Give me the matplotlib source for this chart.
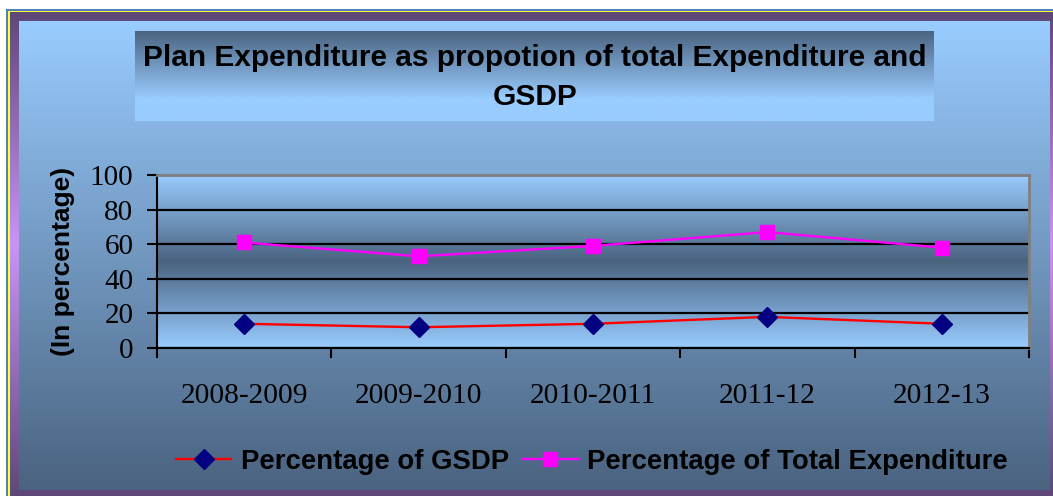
import numpy as np
import matplotlib
matplotlib.use("Agg")
import matplotlib.pyplot as plt
from matplotlib.patches import Rectangle
from matplotlib.colors import to_rgb

# ---- data ----
years = ["2008-2009", "2009-2010", "2010-2011", "2011-12", "2012-13"]
gsdp_pct = [14, 12, 14, 18, 14]
total_exp_pct = [61, 53, 59, 67, 58]
yticks = [0, 20, 40, 60, 80, 100]
title_line1 = "Plan Expenditure as propotion of total Expenditure and"
title_line2 = "GSDP"
ylabel = "(In percentage)"
legend_labels = ["Percentage of GSDP", "Percentage of Total Expenditure"]

SANS = ["Liberation Sans", "DejaVu Sans"]
SERIF = ["Liberation Serif", "DejaVu Serif"]

W, H = 1053, 496
fig = plt.figure(figsize=(W / 100, H / 100), dpi=100, facecolor="white")


def vgrad(stops, n=256):
    pos = np.linspace(0, 1, n)
    sp = [s[0] for s in stops]
    cols = np.array([to_rgb(s[1]) for s in stops])
    arr = np.stack([np.interp(pos, sp, cols[:, i]) for i in range(3)], axis=-1)
    return arr[:, None, :]


# ---- background / frame ----
bg = fig.add_axes([0, 0, 1, 1], zorder=-10)
bg.axis("off")
bg.add_patch(Rectangle((6, 9), W - 6, H - 9, color="#4F81BD", lw=0, zorder=1))
bg.add_patch(Rectangle((8, 11), W - 8, H - 11, color="#FFFF33", lw=0, zorder=2))
bg.imshow(vgrad([(0, "#5E4878"), (0.48, "#C894F6"), (1, "#5E4878")]),
          extent=(10, W, H, 12), aspect="auto", interpolation="bilinear", zorder=3)
bg.imshow(vgrad([(0, "#99CCFF"), (1, "#4A6380")]),
          extent=(19, 1050, 490, 21), aspect="auto", interpolation="bilinear", zorder=4)
bg.imshow(vgrad([(0, "#4A6380"), (0.75, "#99CCFF"), (1, "#99CCFF")]),
          extent=(135, 934, 121, 31), aspect="auto", interpolation="bilinear", zorder=5)
bg.set_xlim(0, W)
bg.set_ylim(H, 0)

# ---- titles ----
fig.text(535 / W, 1 - 66 / H, title_line1, ha="center", va="baseline",
         fontsize=21.5, fontweight="bold", family=SANS, color="black")
fig.text(535 / W, 1 - 105 / H, title_line2, ha="center", va="baseline",
         fontsize=21.5, fontweight="bold", family=SANS, color="black")

# ---- main axes ----
ax = fig.add_axes([157 / W, 1 - 348 / H, 872 / W, 173 / H])
ax.imshow(vgrad([(0, "#99CCFF"), (0.5, "#4A6380"), (1, "#99CCFF")]),
          extent=(-0.5, 4.5, 0, 100), aspect="auto", interpolation="bilinear", zorder=0)
x = np.arange(len(years))
l1, = ax.plot(x, gsdp_pct, color="#FF0000", lw=1.7, marker="D", ms=10,
              mfc="#000080", mec="#000080", zorder=3)
l2, = ax.plot(x, total_exp_pct, color="#FF00FF", lw=1.7, marker="s", ms=10,
              mfc="#FF00FF", mec="#FF00FF", zorder=3)
ax.set_xlim(-0.5, 4.5)
ax.set_ylim(0, 100)
ax.set_yticks(yticks)
ax.set_yticklabels([str(v) for v in yticks], family=SERIF, fontsize=21)
ax.set_xticks(np.arange(-0.5, len(years), 1))
ax.set_xticklabels([])
ax.set_xticks(x, minor=True)
ax.set_xticklabels(years, minor=True, family=SERIF, fontsize=21.2)
ax.set_axisbelow(True)
ax.yaxis.grid(True, color="black", lw=1.6)
ax.tick_params(axis="x", which="major", length=7, width=1.5, direction="out", color="black")
ax.tick_params(axis="x", which="minor", length=0, pad=25)
ax.tick_params(axis="y", length=7, width=1.5, pad=10, color="black")
for s in ["left", "bottom"]:
    ax.spines[s].set_color("black")
    ax.spines[s].set_linewidth(1.5)
for s in ["top", "right"]:
    ax.spines[s].set_color("#808080")
    ax.spines[s].set_linewidth(2)

# ---- y label ----
fig.text(63 / W, 1 - 261 / H, ylabel, rotation=90, ha="center", va="center",
         fontsize=19, fontweight="bold", family=SANS, color="black")

# ---- legend ----
fig.legend([l1, l2], legend_labels, loc="center", bbox_to_anchor=(592 / W, 1 - 462 / H),
           ncol=2, frameon=False, prop={"family": SANS, "weight": "bold", "size": 19.8},
           handlelength=2.0, handletextpad=0.35, columnspacing=0.5, markerscale=1.05)

fig.savefig("out.png", dpi=100, facecolor="white")
